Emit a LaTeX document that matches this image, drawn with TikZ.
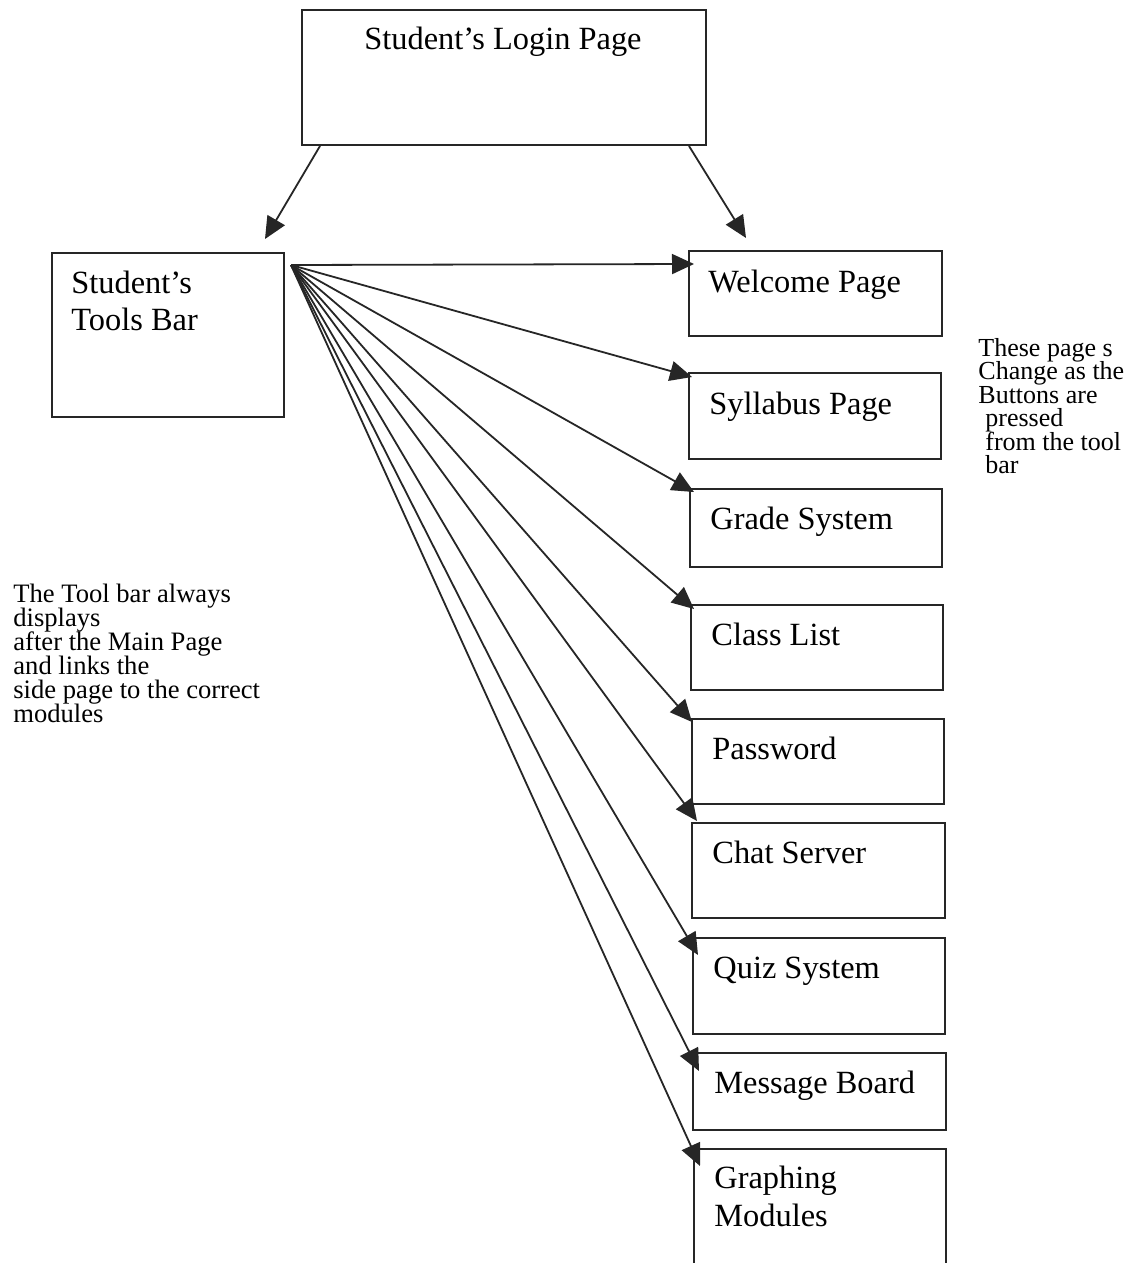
\documentclass[tikz,border=0pt]{standalone}
\usepackage{fontspec}
\setmainfont{Liberation Serif}
\usetikzlibrary{arrows.meta,calc,fit}
\begin{document}
\begin{tikzpicture}[x=0.5pt,y=-0.5pt,
  box/.style={draw=black!85,line width=1pt,inner sep=0pt,rectangle},
  lbl/.style={anchor=base west,inner sep=0pt,font=\fontsize{16.2}{19}\selectfont},
  note/.style={anchor=base west,inner sep=0pt,font=\fontsize{13.3}{15}\selectfont},
  link/.style={draw=black!85,line width=0.9pt,-{Triangle[length=11pt,width=10pt]}}]

% page area
\clip (0,0) rectangle (1132,1263);
\fill[white] (0,0) rectangle (1132,1263);

% login page and tool bar
\node[box,fit={(302,10) (706,145)}] (login) {};
\node[lbl,anchor=base] (logintxt) at ($(login.north)+(-1,41)$) {Student’s Login Page};

\node[box,fit={(52,253) (284,417)}] (tools) {};
\node[lbl] (toolstxta) at ($(tools.north west)+(20,41)$) {Student’s};
\node[lbl] (toolstxtb) at ($(tools.north west)+(20,78)$) {Tools Bar};

% module pages
\node[box,fit={(689,251) (942,336)}]  (welcome)  {};
\node[box,fit={(689,373) (941,459)}]  (syllabus) {};
\node[box,fit={(690,489) (942,567)}]  (grade)    {};
\node[box,fit={(691,605) (943,690)}]  (class)    {};
\node[box,fit={(692,719) (944,804)}]  (password) {};
\node[box,fit={(692,823) (945,918)}]  (chat)     {};
\node[box,fit={(693,938) (945,1034)}] (quiz)     {};
\node[box,fit={(693,1053) (946,1130)}] (message) {};
\node[box,fit={(694,1149) (946,1300)}] (graphing) {};

\node[lbl] (welcometxt)  at ($(welcome.north west)+(20,42)$)  {Welcome Page};
\node[lbl] (syllabustxt) at ($(syllabus.north west)+(21,42)$) {Syllabus Page};
\node[lbl] (gradetxt)    at ($(grade.north west)+(21,41)$)    {Grade System};
\node[lbl] (classtxt)    at ($(class.north west)+(21,41)$)    {Class List};
\node[lbl] (passwordtxt) at ($(password.north west)+(21,41)$) {Password};
\node[lbl] (chattxt)     at ($(chat.north west)+(21,41)$)     {Chat Server};
\node[lbl] (quiztxt)     at ($(quiz.north west)+(21,41)$)     {Quiz System};
\node[lbl] (messagetxt)  at ($(message.north west)+(22,41)$)  {Message Board};
\node[lbl] (graphtxta)   at ($(graphing.north west)+(21,40)$) {Graphing};
\node[lbl] (graphtxtb)   at ($(graphing.north west)+(21,78)$) {Modules};

% side notes
\foreach \t [count=\i] in {The Tool bar always,displays,after the Main Page,and links the,side page to the correct,modules}
  \node[note] (leftnote\i) at (13,{602+24*(\i-1)}) {\t};
\foreach \t/\dx [count=\i] in {These page s/0,Change as the/0,Buttons are/0,pressed/7,from the tool/7,bar/7}
  \node[note,font=\fontsize{13}{15}\selectfont] (rightnote\i) at ({978+\dx},{356+23.5*(\i-1)}) {\t};

% connectors from the login page
\draw[link] ($(login.south west)+(19,0)$) -- ($(tools.north east)+(-20,-13)$);
\draw[link] ($(login.south east)+(-18,0)$) -- ($(welcome.north west)+(58,-12)$);

% connectors from the tool bar
\coordinate (hub) at ($(tools.north east)+(6,13)$);
\draw[link] (hub) -- ($(welcome.north west)+(6,14)$);
\draw[link] (hub) -- ($(syllabus.north west)+(4,5)$);
\draw[link] (hub) -- ($(grade.north west)+(5,4)$);
\draw[link] (hub) -- ($(class.north west)+(4,5)$);
\draw[link] (hub) -- ($(password.north west)+(1,4)$);
\draw[link] (hub) -- ($(chat.north west)+(6,-1)$);
\draw[link] (hub) -- ($(quiz.north west)+(6,18)$);
\draw[link] (hub) -- ($(message.north west)+(7,19)$);
\draw[link] (hub) -- ($(graphing.north west)+(7,18)$);
\end{tikzpicture}
\end{document}
